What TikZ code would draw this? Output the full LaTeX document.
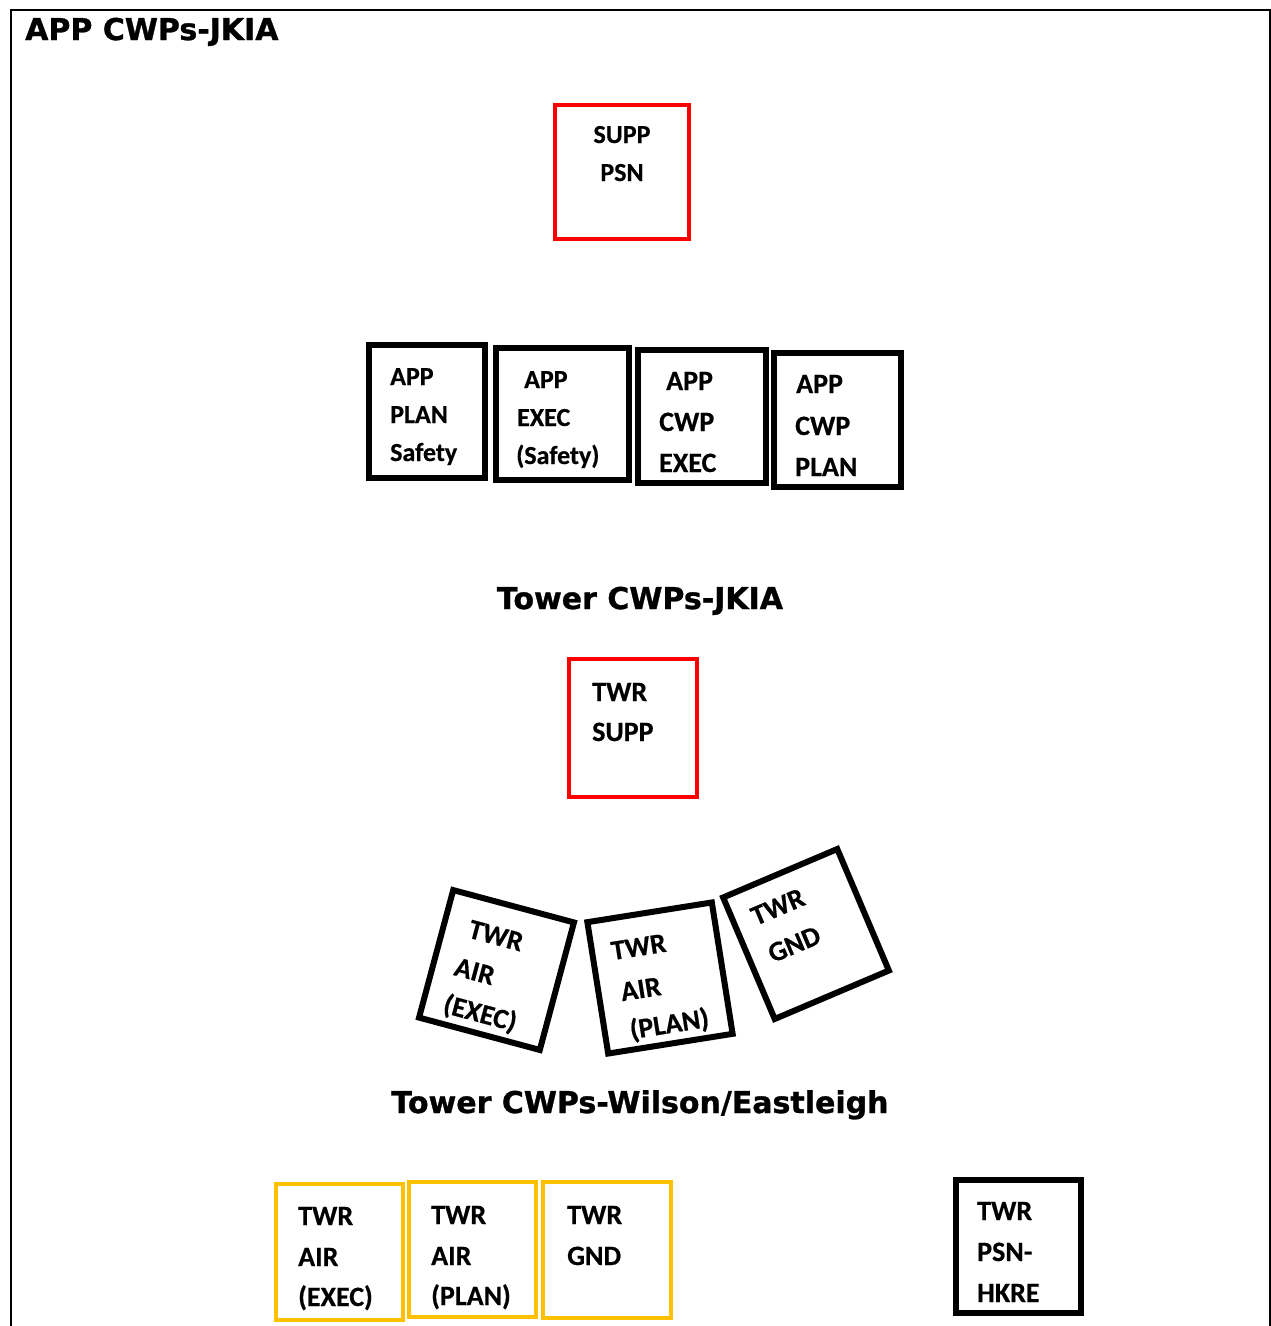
\documentclass[tikz,border=0pt]{standalone}
\usepackage{fontspec}
\newfontfamily\boxfont{Carlito Bold}[FakeBold=0.5]
\newfontfamily\titlefont{DejaVu Sans Bold}[FakeBold=1]
\definecolor{boxred}{HTML}{FF0000}
\definecolor{boxorange}{HTML}{FFC000}
\begin{document}
\begin{tikzpicture}[x=1pt,y=-1pt,
  cell/.style={draw, inner sep=0pt, fill=white},
  redcell/.style={cell, draw=boxred, line width=4pt},
  blackcell/.style={cell, draw=black, line width=6pt},
  orangecell/.style={cell, draw=boxorange, line width=4pt},
  lbl/.style={inner sep=0pt, anchor=base west, font=\boxfont\fontsize{28}{34}\selectfont},
  lblsmall/.style={lbl, font=\boxfont\fontsize{26}{32}\selectfont},
  ttl/.style={inner sep=0pt, anchor=base, font=\titlefont\fontsize{30}{36}\selectfont}]
\useasboundingbox (0,0) rectangle (1271,1326);
\fill[white] (0,0) rectangle (1271,1326);
% frame
\draw[line width=2pt] (11,1330) -- (11,10) -- (1270,10) -- (1270,1330);

% titles
\node[ttl, anchor=base west] (t1) at (25,40) {APP CWPs-JKIA};
\node[ttl] (t2) at (640,609) {Tower CWPs-JKIA};
\node[ttl] (t3) at (640,1113) {Tower CWPs-Wilson/Eastleigh};

% SUPP PSN
\node[redcell, minimum width=134pt, minimum height=134pt] (supp) at (622,172) {};
\node[lblsmall, anchor=base] (supp1) at (622,143) {SUPP};
\node[lblsmall, anchor=base] (supp2) at (622,181) {PSN};

% APP boxes
\node[blackcell, minimum width=116pt, minimum height=133pt] (app1) at (427,411.5) {};
\node[lblsmall] (app1a) at (390,385) {APP};
\node[lblsmall] (app1b) at (390,423) {PLAN};
\node[lblsmall] (app1c) at (390,461) {Safety};

\node[blackcell, minimum width=133pt, minimum height=132pt] (app2) at (562.5,414) {};
\node[lblsmall] (app2a) at (524,388) {APP};
\node[lblsmall] (app2b) at (517,426) {EXEC};
\node[lblsmall] (app2c) at (516,464) {(Safety)};

\node[blackcell, minimum width=128pt, minimum height=133pt] (app3) at (702,416.5) {};
\node[lbl] (app3a) at (666,390) {APP};
\node[lbl] (app3b) at (659,431) {CWP};
\node[lbl] (app3c) at (659,472) {EXEC};

\node[blackcell, minimum width=127pt, minimum height=134pt] (app4) at (837.5,420) {};
\node[lbl] (app4a) at (796,393) {APP};
\node[lbl] (app4b) at (795,435) {CWP};
\node[lbl] (app4c) at (795,476) {PLAN};

% TWR SUPP
\node[redcell, minimum width=128pt, minimum height=138pt] (twrsupp) at (633,728) {};
\node[lbl] (twrsupp1) at (592,701) {TWR};
\node[lbl] (twrsupp2) at (592,741) {SUPP};

% rotated tower boxes
\begin{scope}[shift={(496.5,970)}, rotate=-15]
  \node[blackcell, transform shape, minimum width=125pt, minimum height=132pt] (ra) at (0,0) {};
  \node[lbl, transform shape] (ra1) at (-37,-24) {TWR};
  \node[lbl, transform shape] (ra2) at (-41,16) {AIR};
  \node[lbl, transform shape] (ra3) at (-42,55) {(EXEC)};
\end{scope}
\begin{scope}[shift={(660,978)}, rotate=9]
  \node[blackcell, transform shape, minimum width=126pt, minimum height=133pt] (rb) at (0,0) {};
  \node[lbl, transform shape] (rb1) at (-44,-25) {TWR};
  \node[lbl, transform shape] (rb2) at (-41,17) {AIR};
  \node[lbl, transform shape] (rb3) at (-38,56) {(PLAN)};
\end{scope}
\begin{scope}[shift={(806,934)}, rotate=23]
  \node[blackcell, transform shape, minimum width=124pt, minimum height=132pt] (rc) at (0,0) {};
  \node[lbl, transform shape] (rc1) at (-43,-27) {TWR};
  \node[lbl, transform shape] (rc2) at (-42,14) {GND};
\end{scope}

% Wilson/Eastleigh boxes
\node[orangecell, minimum width=127pt, minimum height=136pt] (o1) at (339.5,1252) {};
\node[lbl] (o1a) at (298,1225) {TWR};
\node[lbl] (o1b) at (298,1266) {AIR};
\node[lbl] (o1c) at (298,1306) {(EXEC)};

\node[orangecell, minimum width=127pt, minimum height=135pt] (o2) at (472.5,1249.5) {};
\node[lbl] (o2a) at (431,1224) {TWR};
\node[lbl] (o2b) at (431,1265) {AIR};
\node[lbl] (o2c) at (431,1305) {(PLAN)};

\node[orangecell, minimum width=128pt, minimum height=136pt] (o3) at (607,1250) {};
\node[lbl] (o3a) at (567,1224) {TWR};
\node[lbl] (o3b) at (567,1265) {GND};

\node[blackcell, minimum width=125pt, minimum height=133pt] (hkre) at (1018.5,1246.5) {};
\node[lbl] (hkre1) at (977,1220) {TWR};
\node[lbl] (hkre2) at (977,1261) {PSN-};
\node[lbl] (hkre3) at (977,1302) {HKRE};
\end{tikzpicture}
\end{document}
